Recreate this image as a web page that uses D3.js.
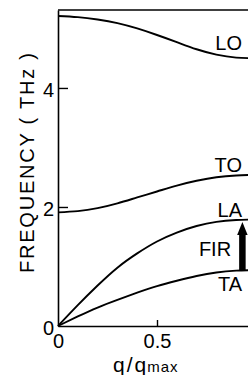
<!DOCTYPE html>
<html>
<head>
<meta charset="utf-8">
<script src="https://cdn.jsdelivr.net/npm/d3@7"></script>
<style>
  html, body { margin: 0; padding: 0; background: #fff; }
  svg { display: block; font-family: "Liberation Sans", Arial, sans-serif; }
</style>
</head>
<body>
<div id="chart"></div>
<script>
// reduced wave vector q/qmax
const qValues = [0, 0.1, 0.2, 0.3, 0.4, 0.5, 0.6, 0.7, 0.8, 0.9, 1.0];
// phonon branches (THz)
const loFreq = [5.21, 5.19, 5.15, 5.09, 5.00, 4.89, 4.77, 4.65, 4.56, 4.51, 4.50];
const toFreq = [1.91, 1.93, 1.98, 2.06, 2.16, 2.26, 2.36, 2.44, 2.50, 2.53, 2.54];
const laFreq = [0, 0.35, 0.68, 0.98, 1.22, 1.42, 1.57, 1.68, 1.75, 1.78, 1.79];
const taFreq = [0, 0.16, 0.31, 0.44, 0.56, 0.67, 0.76, 0.84, 0.90, 0.93, 0.94];
const branchNames = ["LO", "TO", "LA", "TA"];
const yTicks = [0, 2, 4];
const xTicks = [0, 0.5];
const firQ = 0.93;
const firLabel = "FIR";

const drawChart = () => {
  const width = 248;
  const height = 375;
  const margin = { top: 10, left: 58, bottom: 49 };
  const plotBottom = height - margin.bottom;

  const svg = d3
    .select("#chart")
    .append("svg")
    .attr("width", width)
    .attr("height", height);

  const x = d3.scaleLinear().domain([0, 1]).range([margin.left, 256]);
  const y = d3.scaleLinear().domain([0, 5.31]).range([plotBottom, margin.top]);

  const series = {
    LO: loFreq,
    TO: toFreq,
    LA: laFreq,
    TA: taFreq,
  };

  // axes
  const yAxis = svg
    .append("g")
    .attr("transform", `translate(${margin.left},0)`)
    .call(
      d3.axisLeft(y)
        .tickValues(yTicks)
        .tickFormat(d3.format("d"))
        .tickSize(-10)
        .tickSizeOuter(0)
        .tickPadding(4)
    );

  const xAxis = svg
    .append("g")
    .attr("transform", `translate(0,${plotBottom})`)
    .call(
      d3.axisBottom(x)
        .tickValues(xTicks)
        .tickFormat((d) => String(d))
        .tickSize(-6)
        .tickSizeOuter(0)
        .tickPadding(8)
    );

  [yAxis, xAxis].forEach((ax) => {
    ax.select(".domain").attr("stroke", "#000").attr("stroke-width", 1.6);
    ax.selectAll(".tick line").attr("stroke", "#000").attr("stroke-width", 1.4);
    ax.selectAll(".tick text")
      .attr("fill", "#000")
      .style("font-size", "20px")
      .style("font-family", "Liberation Sans, Arial, sans-serif");
  });
  yAxis.selectAll(".tick text").attr("dy", "0.42em");
  // the 0 ticks sit on the frame
  xAxis.selectAll(".tick").filter((d) => d === 0).select("line").remove();
  yAxis.selectAll(".tick").filter((d) => d === 0).select("line").remove();

  // top frame
  svg
    .append("line")
    .attr("x1", x(0))
    .attr("x2", x(1))
    .attr("y1", y(5.31))
    .attr("y2", y(5.31))
    .attr("stroke", "#000")
    .attr("stroke-width", 1.6);

  // branches
  const line = d3
    .line()
    .x((d) => x(d[0]))
    .y((d) => y(d[1]))
    .curve(d3.curveNatural);

  branchNames.forEach((name) => {
    svg
      .append("path")
      .datum(qValues.map((q, i) => [q, series[name][i]]))
      .attr("fill", "none")
      .attr("stroke", "#000")
      .attr("stroke-width", 1.9)
      .attr("d", line);
  });

  // value of a branch at q (linear between points)
  const valueAt = (arr, q) => d3.scaleLinear().domain(qValues).range(arr)(q);

  // branch labels
  const labelOffset = { LO: -8, TO: -3, LA: -3, TA: 21 };
  branchNames.forEach((name) => {
    svg
      .append("text")
      .attr("x", 242)
      .attr("y", y(valueAt(series[name], firQ)) + labelOffset[name])
      .attr("text-anchor", "end")
      .style("font-size", "20px")
      .text(name);
  });

  // FIR arrow from TA to LA
  const xc = x(firQ);
  const yTop = y(valueAt(laFreq, firQ)) + 2;
  const yBot = y(valueAt(taFreq, firQ));
  svg
    .append("rect")
    .attr("x", xc - 3)
    .attr("y", yTop + 10)
    .attr("width", 6.5)
    .attr("height", yBot - yTop - 10)
    .attr("fill", "#000");
  svg
    .append("path")
    .attr("d", `M${xc - 5},${yTop + 13} L${xc + 0.25},${yTop} L${xc + 5.5},${yTop + 13} Z`)
    .attr("fill", "#000");

  svg
    .append("text")
    .attr("x", xc - 11)
    .attr("y", (yTop + yBot) / 2 + 10)
    .attr("text-anchor", "end")
    .style("font-size", "20px")
    .text(firLabel);

  // axis titles
  svg
    .append("text")
    .attr("transform", `translate(34,163) rotate(-90)`)
    .attr("text-anchor", "middle")
    .attr("textLength", 220)
    .attr("lengthAdjust", "spacing")
    .style("font-size", "20px")
    .text("FREQUENCY ( THz )");

  const xt = svg
    .append("text")
    .attr("x", 113)
    .attr("y", 372)
    .style("font-size", "21px");
  xt.append("tspan").text("q");
  xt.append("tspan").attr("dx", 2).text("/");
  xt.append("tspan").attr("dx", 2).text("q");
  xt.append("tspan")
    .attr("dx", 1)
    .style("font-size", "15px")
    .style("letter-spacing", "1px")
    .text("max");
};

drawChart();
</script>
</body>
</html>
